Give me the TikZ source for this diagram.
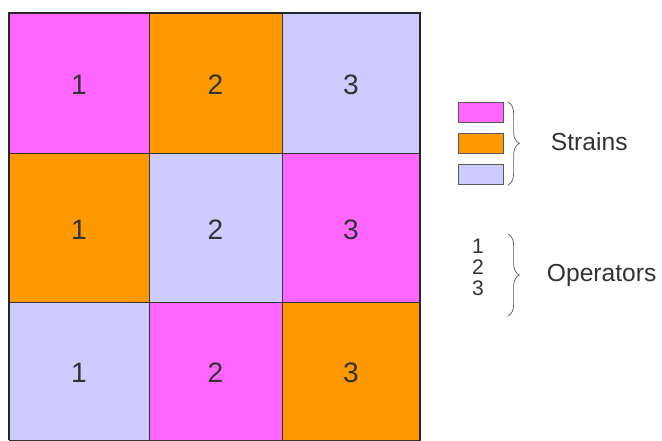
\documentclass[tikz,border=0pt]{standalone}
\usepackage{fontspec}
\setmainfont{Liberation Sans}
\usetikzlibrary{decorations.pathreplacing}
\definecolor{strainA}{HTML}{FF66FF}
\definecolor{strainB}{HTML}{FF9900}
\definecolor{strainC}{HTML}{CCCCFF}
\definecolor{inkgray}{HTML}{333333}

\begin{document}
\begin{tikzpicture}[x=0.025cm, y=-0.025cm,
  cellnum/.style={text=inkgray, font=\fontsize{20}{24}\selectfont},
  keybox/.style={draw=gray!70!black, line width=0.6pt, inner sep=0pt,
    minimum width=1.125cm, minimum height=0.5cm},
  keynum/.style={text=inkgray, font=\fontsize{15}{17}\selectfont},
  keybrace/.style={decorate, decoration={brace, amplitude=8pt},
    draw=gray!70!black, line width=0.5pt},
  keytext/.style={text=inkgray, font=\fontsize{17.5}{21}\selectfont, anchor=west}]
  \useasboundingbox (0,0) rectangle (662,440);
  % Latin square of strains, one operator per column
  \foreach \r/\ya/\yb/\ca/\cb/\cc in {1/13/153/strainA/strainB/strainC,
      2/153/302/strainB/strainC/strainA, 3/302/440/strainC/strainA/strainB} {
    \foreach \c/\xa/\xb/\col in {1/9/149/\ca, 2/149/282/\cb, 3/282/420/\cc} {
      \fill[\col] (\xa,\ya) rectangle (\xb,\yb);
      \draw[gray!40!black, line width=0.6pt] (\xa,\ya) rectangle (\xb,\yb);
      \node[cellnum] (cell\r\c) at ({(\xa+\xb)/2},{(\ya+\yb)/2+2}) {\c};
    }
  }
  \draw[black!85, line width=1pt] (9,440) -- (9,13) -- (420,13) -- (420,440);
  % key: strains
  \node[keybox, fill=strainA] (keyA) at (480.5,112) {};
  \node[keybox, fill=strainB] (keyB) at (480.5,143) {};
  \node[keybox, fill=strainC] (keyC) at (480.5,174.5) {};
  \coordinate (sbtop) at (508,102);
  \coordinate (sbbot) at (508,185);
  \draw[keybrace] (sbtop) -- (sbbot);
  \node[keytext] (strains) at (546,142) {Strains};
  % key: operators
  \node[keynum] (op1) at (478,246) {1};
  \node[keynum] (op2) at (478,267) {2};
  \node[keynum] (op3) at (478,288) {3};
  \coordinate (obtop) at (508,234);
  \coordinate (obbot) at (508,316);
  \draw[keybrace] (obtop) -- (obbot);
  \node[keytext] (operators) at (542,275) {Operators};
\end{tikzpicture}
\end{document}
